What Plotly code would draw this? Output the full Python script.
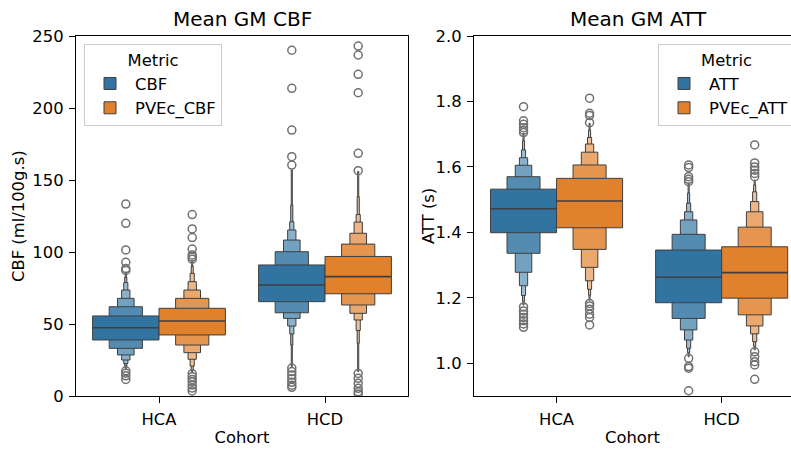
import colorsys
import plotly.graph_objects as go
from plotly.subplots import make_subplots

COHORTS = ["HCA", "HCD"]

# ---------------- Mean GM CBF (ml/100g.s) ----------------
# letter values: index 0 = quartiles ... index 6 = deepest level; one row per cohort
CBF_median = [47.4, 77.1]
CBF_upper = [
    [55.6, 62.0, 67.8, 73.6, 78.7, 82.5, 86.0],
    [91.0, 100.2, 108.3, 115.3, 121.0, 132.6, 157.0],
]
CBF_lower = [
    [38.9, 33.1, 28.5, 25.0, 22.5, 20.8, 19.0],
    [65.5, 57.8, 53.9, 48.6, 43.1, 35.4, 20.4],
]
CBF_outliers = [
    [87.2, 88.5, 92.8, 101.4, 119.9, 133.3, 17.5, 15.8, 14.0, 11.5],
    [160.4, 166.2, 184.7, 213.7, 240.1, 19.4, 17.0, 14.5, 12.0, 9.5, 7.5, 6.0],
]

PVEc_CBF_median = [52.1, 82.9]
PVEc_CBF_upper = [
    [60.9, 67.8, 73.6, 79.4, 85.2, 90.0, 94.0],
    [96.9, 105.5, 113.0, 120.8, 126.0, 138.4, 156.0],
]
PVEc_CBF_lower = [
    [42.4, 35.4, 30.1, 25.5, 20.8, 18.0, 16.2],
    [71.0, 63.2, 57.4, 52.8, 45.5, 36.6, 17.0],
]
PVEc_CBF_outliers = [
    [95.0, 96.5, 98.0, 102.0, 110.0, 116.0, 126.0, 15.5, 13.4, 11.5, 9.9, 7.6, 5.5, 3.5],
    [156.5, 168.5, 210.6, 223.4, 236.8, 243.0, 15.7, 12.3, 8.8, 5.3, 3.0, 1.4],
]

# ---------------- Mean GM ATT (s) ----------------
ATT_median = [1.472, 1.263]
ATT_upper = [
    [1.532, 1.570, 1.605, 1.628, 1.652, 1.680, 1.703],
    [1.346, 1.394, 1.438, 1.463, 1.489, 1.520, 1.550],
]
ATT_lower = [
    [1.399, 1.336, 1.278, 1.237, 1.207, 1.190, 1.178],
    [1.185, 1.137, 1.102, 1.071, 1.046, 1.032, 1.020],
]
ATT_outliers = [
    [1.705, 1.712, 1.720, 1.730, 1.741, 1.784, 1.172, 1.160, 1.150, 1.140, 1.130, 1.120, 1.110],
    [1.555, 1.562, 1.570, 1.598, 1.606, 1.015, 0.990, 0.985, 0.916],
]

PVEc_ATT_median = [1.496, 1.277]
PVEc_ATT_upper = [
    [1.565, 1.606, 1.645, 1.670, 1.690, 1.712, 1.733],
    [1.356, 1.416, 1.463, 1.494, 1.524, 1.545, 1.560],
]
PVEc_ATT_lower = [
    [1.414, 1.348, 1.293, 1.252, 1.226, 1.208, 1.193],
    [1.199, 1.148, 1.114, 1.090, 1.066, 1.052, 1.041],
]
PVEc_ATT_outliers = [
    [1.735, 1.757, 1.764, 1.810, 1.183, 1.175, 1.165, 1.150, 1.140, 1.117],
    [1.570, 1.580, 1.590, 1.600, 1.612, 1.667, 1.035, 1.020, 1.005, 0.995, 0.951],
]

# ---------------- styling ----------------
HUE_COLORS = ["#3274a1", "#e1812c"]
EDGE = "#3f3f3f"
FLIER = "#707070"
LEVEL_T = [0.0, 0.18, 0.35, 0.48, 0.58, 0.66, 0.72]
BOX_W = 0.4
FONT = "DejaVu Sans"
FS = 16.4
TITLE_FS = 20


def hex_to_rgb(c):
    c = c.lstrip("#")
    return tuple(int(c[i:i + 2], 16) / 255 for i in (0, 2, 4))


def light_of(c):
    h, l, s = colorsys.rgb_to_hls(*hex_to_rgb(c))
    return colorsys.hls_to_rgb(h, 0.95, s)


def blend(c, t):
    a = hex_to_rgb(c)
    b = light_of(c)
    r = [a[i] + (b[i] - a[i]) * t for i in range(3)]
    return "rgb(%d,%d,%d)" % tuple(round(v * 255) for v in r)


panels = [
    dict(col=1, legend="legend", series=[
        ("CBF", CBF_median, CBF_upper, CBF_lower, CBF_outliers),
        ("PVEc_CBF", PVEc_CBF_median, PVEc_CBF_upper, PVEc_CBF_lower, PVEc_CBF_outliers),
    ]),
    dict(col=2, legend="legend2", series=[
        ("ATT", ATT_median, ATT_upper, ATT_lower, ATT_outliers),
        ("PVEc_ATT", PVEc_ATT_median, PVEc_ATT_upper, PVEc_ATT_lower, PVEc_ATT_outliers),
    ]),
]

fig = make_subplots(rows=1, cols=2)

for p in panels:
    for h, (name, med, up, lo, outl) in enumerate(p["series"]):
        off = (h - 0.5) * BOX_W
        xs = [i + off for i in range(len(COHORTS))]
        nlev = len(up[0])
        for k in reversed(range(nlev)):
            fig.add_trace(go.Bar(
                x=xs,
                base=[lo[i][k] for i in range(len(COHORTS))],
                y=[up[i][k] - lo[i][k] for i in range(len(COHORTS))],
                width=BOX_W * 0.5 ** k,
                marker=dict(color=blend(HUE_COLORS[h], LEVEL_T[k]),
                            line=dict(color=EDGE, width=1)),
                name=name, legend=p["legend"], showlegend=(k == 0),
                hoverinfo="skip",
            ), row=1, col=p["col"])
        mx, my = [], []
        for i in range(len(COHORTS)):
            mx += [xs[i] - BOX_W / 2, xs[i] + BOX_W / 2, None]
            my += [med[i], med[i], None]
        fig.add_trace(go.Scatter(x=mx, y=my, mode="lines",
                                 line=dict(color=EDGE, width=1.6),
                                 showlegend=False, hoverinfo="skip"),
                      row=1, col=p["col"])
        ox, oy = [], []
        for i in range(len(COHORTS)):
            ox += [xs[i]] * len(outl[i])
            oy += outl[i]
        fig.add_trace(go.Scatter(x=ox, y=oy, mode="markers",
                                 marker=dict(symbol="circle-open", size=8,
                                             color=FLIER, line=dict(width=1.5)),
                                 showlegend=False, hoverinfo="skip"),
                      row=1, col=p["col"])

W, H = 791, 450
ML, MR, MT, MB = 76, 0, 36, 54
PW = W - ML - MR
PH = H - MT - MB


def px_x(px):
    return (px - ML) / PW


def px_y(py):
    return (H - MB - py) / PH


axis_common = dict(showline=True, linecolor="black", linewidth=1.2, ticks="outside",
                   ticklen=6, tickcolor="black", tickwidth=1.2, showgrid=False,
                   zeroline=False, tickfont=dict(size=FS, color="black"),
                   ticklabelstandoff=2)

fig.update_xaxes(**axis_common)
fig.update_yaxes(**axis_common)

legend_common = dict(xanchor="left", yanchor="top", y=px_y(44),
                     bgcolor="rgba(255,255,255,0.8)", bordercolor="#cccccc",
                     borderwidth=1, itemwidth=40,
                     title=dict(text="Metric", side="top center", font=dict(size=FS)),
                     font=dict(size=FS))

fig.update_layout(
    width=W, height=H,
    margin=dict(l=ML, r=MR, t=MT, b=MB, autoexpand=False),
    plot_bgcolor="white", paper_bgcolor="white",
    barmode="overlay",
    font=dict(family=FONT, size=FS, color="black"),
    xaxis=dict(domain=[0, px_x(408)], range=[-0.5, 1.5], tickvals=[0, 1],
               ticktext=COHORTS, mirror=True,
               title=dict(text="Cohort", standoff=3, font=dict(size=FS))),
    yaxis=dict(range=[0, 250], tickvals=[0, 50, 100, 150, 200, 250], mirror=True),
    xaxis2=dict(domain=[px_x(474), 1], range=[-0.5, 1.42], tickvals=[0, 1],
                ticktext=COHORTS, mirror=True,
                title=dict(text="Cohort", standoff=3, font=dict(size=FS))),
    yaxis2=dict(range=[0.9, 2.0], tickvals=[1.0, 1.2, 1.4, 1.6, 1.8, 2.0],
                tickformat=".1f", mirror=False),
    legend=dict(x=px_x(84), **legend_common),
    legend2=dict(x=px_x(658), **legend_common),
    annotations=[
        dict(text="Mean GM CBF", xref="x domain", yref="y domain", x=0.5, y=1,
             xanchor="center", yanchor="bottom", yshift=3, showarrow=False,
             font=dict(size=TITLE_FS)),
        dict(text="Mean GM ATT", xref="paper", yref="paper", x=px_x(638), y=1,
             xanchor="center", yanchor="bottom", yshift=3, showarrow=False,
             font=dict(size=TITLE_FS)),
        dict(text="CBF (ml/100g.s)", xref="paper", yref="paper", x=px_x(18), y=0.5,
             xanchor="center", yanchor="middle", textangle=-90, showarrow=False,
             font=dict(size=FS)),
        dict(text="ATT (s)", xref="paper", yref="paper", x=px_x(428), y=0.5,
             xanchor="center", yanchor="middle", textangle=-90, showarrow=False,
             font=dict(size=FS)),
    ],
)

fig.write_html("out.html", config={"displayModeBar": False},
               post_script="document.body.style.margin='0';")
